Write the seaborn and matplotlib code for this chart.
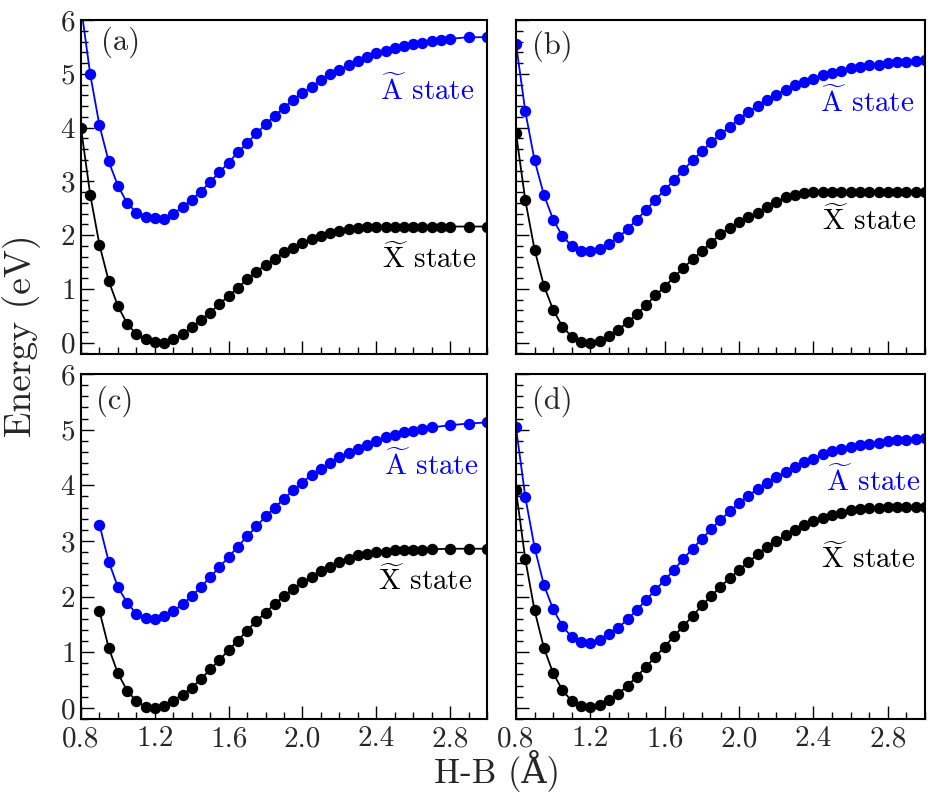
import matplotlib
matplotlib.use("Agg")
import matplotlib.pyplot as plt
import seaborn as sns
import numpy as np
from matplotlib.ticker import MultipleLocator, FormatStrFormatter

sns.set_theme(style="ticks")
plt.rcParams["font.family"] = ["cmr10", "DejaVu Serif"]
plt.rcParams["mathtext.fontset"] = "cm"
plt.rcParams["axes.formatter.use_mathtext"] = True

# H-B distance (Angstrom)
x_a = [0.80, 0.85, 0.90, 0.95, 1.00, 1.05, 1.10, 1.15, 1.20, 1.25, 1.30, 1.35, 1.40, 1.45,
       1.50, 1.55, 1.60, 1.65, 1.70, 1.75, 1.80, 1.85, 1.90, 1.95, 2.00, 2.05, 2.10, 2.15,
       2.20, 2.25, 2.30, 2.35, 2.40, 2.45, 2.50, 2.55, 2.60, 2.65, 2.70, 2.75, 2.80, 2.90, 3.00]
x_b = [0.80, 0.85, 0.90, 0.95, 1.00, 1.05, 1.10, 1.15, 1.20, 1.25, 1.30, 1.35, 1.40, 1.45,
       1.50, 1.55, 1.60, 1.65, 1.70, 1.75, 1.80, 1.85, 1.90, 1.95, 2.00, 2.05, 2.10, 2.15,
       2.20, 2.25, 2.30, 2.35, 2.40, 2.45, 2.50, 2.55, 2.60, 2.65, 2.70, 2.75, 2.80, 2.85,
       2.90, 2.95, 3.00]
x_c = [0.90, 0.95, 1.00, 1.05, 1.10, 1.15, 1.20, 1.25, 1.30, 1.35, 1.40, 1.45,
       1.50, 1.55, 1.60, 1.65, 1.70, 1.75, 1.80, 1.85, 1.90, 1.95, 2.00, 2.05, 2.10, 2.15,
       2.20, 2.25, 2.30, 2.35, 2.40, 2.45, 2.50, 2.55, 2.60, 2.65, 2.70, 2.80, 2.90, 3.00]
x_d = x_b

# panel (a)
A_a = [6.25, 4.99, 4.04, 3.37, 2.92, 2.60, 2.42, 2.33, 2.32, 2.30, 2.40, 2.52, 2.66, 2.81,
       2.99, 3.17, 3.35, 3.54, 3.71, 3.89, 4.06, 4.22, 4.37, 4.52, 4.65, 4.76, 4.88, 4.99,
       5.07, 5.16, 5.24, 5.32, 5.38, 5.43, 5.48, 5.52, 5.56, 5.58, 5.61, 5.63, 5.65, 5.68, 5.68]
X_a = [3.99, 2.75, 1.82, 1.15, 0.68, 0.35, 0.16, 0.06, 0.02, 0.00, 0.06, 0.16, 0.29, 0.42,
       0.56, 0.72, 0.87, 1.02, 1.18, 1.32, 1.45, 1.56, 1.68, 1.76, 1.85, 1.93, 1.99, 2.04,
       2.08, 2.11, 2.13, 2.15, 2.15, 2.15, 2.16, 2.16, 2.16, 2.16, 2.16, 2.16, 2.16, 2.16, 2.16]

# panel (b)
A_b = [5.56, 4.30, 3.39, 2.75, 2.29, 1.98, 1.80, 1.71, 1.70, 1.74, 1.84, 1.96, 2.11, 2.29,
       2.47, 2.66, 2.84, 3.02, 3.21, 3.39, 3.56, 3.73, 3.88, 4.01, 4.16, 4.29, 4.41, 4.52,
       4.61, 4.70, 4.79, 4.85, 4.91, 4.97, 5.01, 5.06, 5.10, 5.13, 5.16, 5.17, 5.20, 5.21,
       5.22, 5.24, 5.25]
X_b = [3.90, 2.65, 1.73, 1.06, 0.61, 0.30, 0.11, 0.02, 0.00, 0.03, 0.12, 0.24, 0.38, 0.53,
       0.70, 0.88, 1.04, 1.22, 1.39, 1.55, 1.71, 1.86, 2.02, 2.14, 2.24, 2.34, 2.42, 2.52,
       2.61, 2.70, 2.75, 2.78, 2.80, 2.80, 2.80, 2.80, 2.80, 2.80, 2.80, 2.80, 2.80, 2.80,
       2.80, 2.80, 2.80]

# panel (c)
A_c = [3.29, 2.63, 2.17, 1.89, 1.69, 1.62, 1.60, 1.65, 1.74, 1.86, 2.01, 2.17,
       2.35, 2.53, 2.71, 2.90, 3.08, 3.26, 3.44, 3.60, 3.76, 3.91, 4.05, 4.19, 4.30, 4.40,
       4.50, 4.58, 4.66, 4.73, 4.80, 4.86, 4.90, 4.95, 4.98, 5.01, 5.04, 5.08, 5.11, 5.13]
X_c = [1.74, 1.08, 0.62, 0.31, 0.12, 0.02, 0.00, 0.03, 0.13, 0.24, 0.36, 0.52,
       0.69, 0.86, 1.04, 1.21, 1.39, 1.56, 1.71, 1.87, 2.01, 2.14, 2.26, 2.35, 2.46, 2.53,
       2.62, 2.68, 2.74, 2.77, 2.80, 2.81, 2.83, 2.84, 2.84, 2.84, 2.85, 2.86, 2.86, 2.86]

# panel (d)
A_d = [5.04, 3.79, 2.88, 2.21, 1.77, 1.47, 1.27, 1.18, 1.17, 1.22, 1.32, 1.44, 1.59, 1.76,
       1.94, 2.12, 2.30, 2.48, 2.68, 2.86, 3.04, 3.21, 3.38, 3.53, 3.68, 3.81, 3.94, 4.05,
       4.15, 4.24, 4.33, 4.41, 4.48, 4.56, 4.61, 4.65, 4.68, 4.72, 4.74, 4.76, 4.79, 4.81,
       4.82, 4.84, 4.85]
X_d = [3.91, 2.67, 1.75, 1.08, 0.62, 0.32, 0.12, 0.03, 0.01, 0.05, 0.14, 0.25, 0.40, 0.56,
       0.74, 0.92, 1.10, 1.29, 1.47, 1.65, 1.84, 2.01, 2.18, 2.33, 2.48, 2.62, 2.76, 2.89,
       3.00, 3.10, 3.20, 3.28, 3.35, 3.41, 3.47, 3.50, 3.55, 3.57, 3.59, 3.60, 3.61, 3.61,
       3.61, 3.61, 3.61]

panels = [
    ("(a)", x_a, A_a, X_a),
    ("(b)", x_b, A_b, X_b),
    ("(c)", x_c, A_c, X_c),
    ("(d)", x_d, A_d, X_d),
]

W, H = 934, 800
rects = [(81, 20, 406, 334), (516, 20, 409, 334), (81, 374, 406, 345), (516, 374, 409, 345)]
label_pos = [(0.050, 0.980), (0.040, 0.968), (0.037, 0.968), (0.040, 0.968)]
A_pos = [(0.970, 0.760), (0.975, 0.725), (0.978, 0.707), (0.988, 0.661)]
X_pos = [(0.975, 0.257), (0.980, 0.371), (0.963, 0.374), (0.976, 0.438)]

fig = plt.figure(figsize=(W / 100, H / 100), dpi=100)
fs_tick = 21
fs_text = 21

for i, (lab, xs, ya, yx) in enumerate(panels):
    l, t, w, h = rects[i]
    ax = fig.add_axes([l / W, 1 - (t + h) / H, w / W, h / H])
    sns.lineplot(x=xs, y=yx, ax=ax, color="black", marker="o", markersize=8.2,
                 markeredgewidth=0, linewidth=1.3)
    sns.lineplot(x=xs, y=ya, ax=ax, color="#0000ff", marker="o", markersize=8.2,
                 markeredgewidth=0, linewidth=1.3)
    ax.set_xlim(0.8, 3.0)
    ax.set_ylim(-0.21 if i < 2 else -0.2, 6)
    ax.xaxis.set_major_locator(MultipleLocator(0.4))
    ax.xaxis.set_minor_locator(MultipleLocator(0.1))
    ax.yaxis.set_major_locator(MultipleLocator(1))
    ax.yaxis.set_minor_locator(MultipleLocator(0.2))
    ax.xaxis.set_major_formatter(FormatStrFormatter("%.1f"))
    ax.tick_params(which="both", direction="in", top=False, right=False,
                   labelsize=fs_tick, width=1.0, color="black")
    ax.tick_params(which="major", length=9.5)
    ax.tick_params(which="minor", length=5)
    ax.tick_params(axis="x", pad=5)
    ax.tick_params(axis="y", pad=4)
    for s in ax.spines.values():
        s.set_linewidth(1.5)
        s.set_color("black")
    if i in (0, 1):
        ax.tick_params(labelbottom=False)
    if i in (1, 3):
        ax.tick_params(labelleft=False)
    ax.set_xlabel("")
    ax.set_ylabel("")
    ax.text(label_pos[i][0], label_pos[i][1], lab, transform=ax.transAxes,
            fontsize=22, ha="left", va="top")
    ax.text(A_pos[i][0], A_pos[i][1], r"$\widetilde{\mathrm{A}}$ state", color="#0000ff",
            transform=ax.transAxes, fontsize=fs_text, ha="right", va="baseline")
    ax.text(X_pos[i][0], X_pos[i][1], r"$\widetilde{\mathrm{X}}$ state", color="black",
            transform=ax.transAxes, fontsize=fs_text, ha="right", va="baseline")

fig.text(22 / W, 1 - 336 / H, "Energy (eV)", rotation=90, fontsize=27,
         ha="center", va="center")
fig.text(497 / W, 1 - 783 / H, "H-B (Å)", fontsize=25,
         ha="center", va="baseline")

fig.savefig("out.png", dpi=100)
